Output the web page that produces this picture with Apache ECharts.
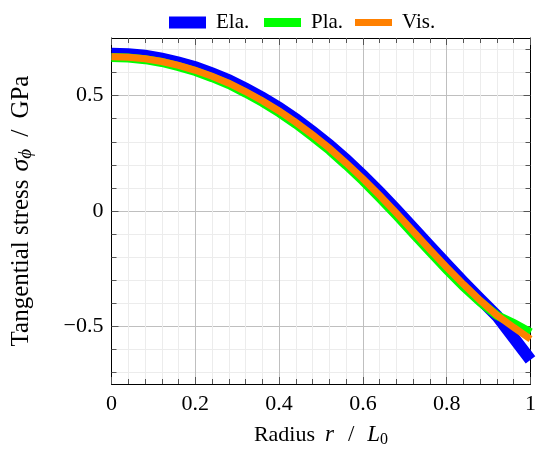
<!DOCTYPE html>
<html>
<head>
<meta charset="utf-8">
<script src="https://cdn.jsdelivr.net/npm/echarts@6/dist/echarts.min.js"></script>
<style>
  html, body { margin: 0; padding: 0; background: #ffffff; }
  #chart { width: 539px; height: 453px; }
</style>
</head>
<body>
<div id="chart"></div>
<script>
// Normalised radius r / L0
const radius = [0.00, 0.04, 0.08, 0.12, 0.16, 0.20, 0.24, 0.28, 0.32, 0.36, 0.40, 0.44, 0.48,
                0.52, 0.56, 0.60, 0.64, 0.68, 0.72, 0.76, 0.80, 0.84, 0.88, 0.92, 0.96, 1.00];

// Tangential stress (GPa) for the three material models
const elastic = [0.682, 0.680, 0.673, 0.661, 0.644, 0.623, 0.597, 0.567, 0.531, 0.491, 0.447, 0.398, 0.344,
                 0.286, 0.222, 0.154, 0.081, 0.005, -0.074, -0.153, -0.231, -0.308, -0.382, -0.455, -0.550, -0.645];
const plastic = [0.665, 0.663, 0.656, 0.644, 0.626, 0.605, 0.578, 0.548, 0.511, 0.471, 0.426, 0.376, 0.321,
                 0.263, 0.198, 0.130, 0.056, -0.020, -0.099, -0.178, -0.255, -0.328, -0.395, -0.453, -0.488, -0.528];
const viscous = [0.669, 0.667, 0.660, 0.648, 0.631, 0.610, 0.584, 0.554, 0.518, 0.478, 0.434, 0.384, 0.330,
                 0.272, 0.208, 0.140, 0.067, -0.009, -0.088, -0.167, -0.244, -0.318, -0.388, -0.452, -0.505, -0.555];

const seriesNames = ['Ela.', 'Pla.', 'Vis.'];
const seriesColors = ['#0000ff', '#00ff00', '#ff8000'];
const seriesWidths = [12, 9, 7];

// Axis ticks
const yMajorTicks = [-0.5, 0, 0.5];
const yMinorTicks = [-0.7, -0.6, -0.4, -0.3, -0.2, -0.1, 0.1, 0.2, 0.3, 0.4, 0.6, 0.7];

const FONT = 'Liberation Serif';
const MAJOR_GRID = '#bfbfbf';
const MINOR_GRID = '#ececec';
const TICK = '#555555';

const fmtMinus = v => (v < 0 ? '\u2212' + Math.abs(v) : String(v));

// shared pieces for the y axes (all span the same range on one grid)
const yBase = { type: 'value', min: -0.75, max: 0.75, interval: 0.05, gridIndex: 0 };

function yTickAxis(position, values, length, withLine) {
  return Object.assign({}, yBase, {
    position: position,
    axisLine: { show: withLine, onZero: false, lineStyle: { color: '#000', width: 1 } },
    axisTick: { show: true, inside: true, length: length, customValues: values,
                lineStyle: { color: TICK, width: 1 } },
    axisLabel: { show: false },
    splitLine: { show: false }
  });
}

// rich-text styles for the axis titles
function titleRich(size, gap) {
  return {
    n: { fontFamily: FONT, fontSize: size, color: '#000' },
    i: { fontFamily: FONT, fontSize: size + 1, fontStyle: 'italic', color: '#000' },
    gi: { fontFamily: FONT, fontSize: size + 1, fontStyle: 'italic', color: '#000', padding: [0, 0, 0, gap] },
    sl: { fontFamily: FONT, fontSize: size + 1, color: '#000', padding: [0, gap + 3, 0, gap + 4] },
    s: { fontFamily: FONT, fontSize: size - 6, color: '#000', padding: [10, 0, 0, 0] },
    si: { fontFamily: FONT, fontSize: size - 6, fontStyle: 'italic', color: '#000', padding: [10, 0, 0, 0] }
  };
}

const chart = echarts.init(document.getElementById('chart'), null, { renderer: 'canvas' });

const legendLeft = [169, 264, 355];

const option = {
  animation: false,
  backgroundColor: '#ffffff',
  legend: seriesNames.map((n, i) => ({
    data: [{ name: n, icon: 'rect' }],
    left: legendLeft[i],
    top: 12,
    padding: 0,
    itemWidth: 37,
    itemHeight: seriesWidths[i],
    selectedMode: false,
    textStyle: { fontFamily: FONT, fontSize: 21, color: '#000', padding: [0, 0, 0, 5] }
  })),
  grid: { left: 111, right: 5, top: 38, bottom: 65, containLabel: false },
  xAxis: [
    {
      type: 'value', min: 0, max: 1, interval: 0.2, position: 'bottom',
      name: '{n|Radius}{gi|r}{sl|/}{i|L}{s|0}',
      nameLocation: 'middle', nameGap: 38,
      nameTextStyle: { rich: titleRich(22, 10) },
      axisLine: { show: true, onZero: false, lineStyle: { color: '#000', width: 1 } },
      axisTick: { show: true, inside: true, length: 7, lineStyle: { color: TICK } },
      minorTick: { show: true, splitNumber: 5, length: 5, lineStyle: { color: TICK } },
      axisLabel: { show: true, margin: 9, fontFamily: FONT, fontSize: 22, color: '#000' },
      splitLine: { show: true, lineStyle: { color: MAJOR_GRID, width: 1 } },
      minorSplitLine: { show: true, lineStyle: { color: MINOR_GRID, width: 1 } }
    },
    {
      type: 'value', min: 0, max: 1, interval: 0.2, position: 'top',
      axisLine: { show: true, onZero: false, lineStyle: { color: '#000', width: 1 } },
      axisTick: { show: true, inside: true, length: 7, lineStyle: { color: TICK } },
      minorTick: { show: true, splitNumber: 5, length: 5, lineStyle: { color: TICK } },
      axisLabel: { show: false },
      splitLine: { show: false }
    }
  ],
  yAxis: [
    Object.assign({}, yBase, {
      position: 'left',
      name: '{n|Tangential stress}{gi|\u03c3}{si|\u03d5}{sl|/}{n|GPa}',
      nameLocation: 'middle', nameGap: 76,
      nameTextStyle: { rich: titleRich(25, 8) },
      axisLine: { show: true, onZero: false, lineStyle: { color: '#000', width: 1 } },
      axisTick: { show: true, inside: true, length: 7, customValues: yMajorTicks,
                  lineStyle: { color: TICK } },
      axisLabel: { show: true, margin: 8, customValues: yMajorTicks, formatter: fmtMinus,
                   fontFamily: FONT, fontSize: 22, color: '#000' },
      splitLine: { show: false }
    }),
    yTickAxis('left', yMinorTicks, 5, false),
    yTickAxis('right', yMajorTicks, 7, true),
    yTickAxis('right', yMinorTicks, 5, false),
    // grid lines every 0.05: majors at multiples of 0.5, minors at multiples of 0.1
    Object.assign({}, yBase, {
      position: 'left',
      axisLine: { show: false },
      axisTick: { show: false },
      axisLabel: { show: false },
      splitLine: {
        show: true,
        lineStyle: {
          width: 1,
          color: ['rgba(0,0,0,0)', MINOR_GRID, 'rgba(0,0,0,0)', MINOR_GRID, 'rgba(0,0,0,0)',
                  MAJOR_GRID, 'rgba(0,0,0,0)', MINOR_GRID, 'rgba(0,0,0,0)', MINOR_GRID]
        }
      }
    })
  ],
  series: [elastic, plastic, viscous].map((vals, i) => ({
    name: seriesNames[i],
    type: 'line',
    xAxisIndex: 0,
    yAxisIndex: 0,
    data: radius.map((r, k) => [r, vals[k]]),
    showSymbol: false,
    symbol: 'none',
    clip: false,
    silent: true,
    color: seriesColors[i],
    lineStyle: { color: seriesColors[i], width: seriesWidths[i], cap: 'butt', join: 'miter' },
    emphasis: { disabled: true },
    z: 3 + i
  }))
};

chart.setOption(option);
</script>
</body>
</html>
